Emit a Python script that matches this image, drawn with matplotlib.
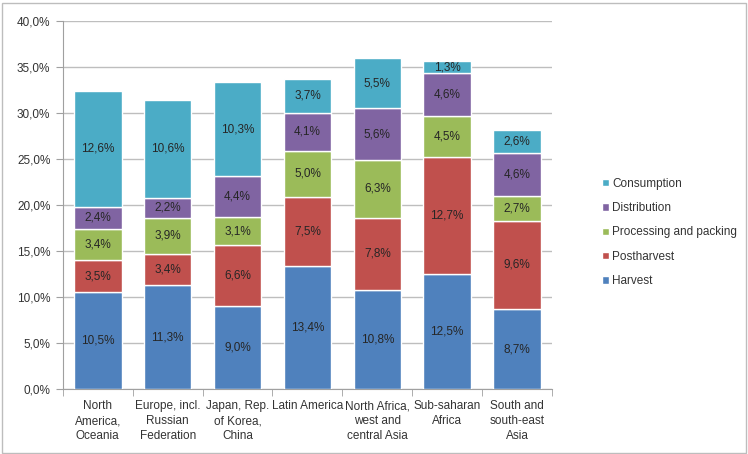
import numpy as np
import matplotlib.pyplot as plt
from matplotlib.patches import Rectangle

plt.rcParams['font.family'] = ['Liberation Sans', 'DejaVu Sans']

# data (percent)
regions = ['North\nAmerica,\nOceania', 'Europe, incl.\nRussian\nFederation',
           'Japan, Rep.\nof Korea,\nChina', 'Latin America',
           'North Africa,\nwest and\ncentral Asia', 'Sub-saharan\nAfrica',
           'South and\nsouth-east\nAsia']
harvest = [10.5, 11.3, 9.0, 13.4, 10.8, 12.5, 8.7]
postharvest = [3.5, 3.4, 6.6, 7.5, 7.8, 12.7, 9.6]
processing = [3.4, 3.9, 3.1, 5.0, 6.3, 4.5, 2.7]
distribution = [2.4, 2.2, 4.4, 4.1, 5.6, 4.6, 4.6]
consumption = [12.6, 10.6, 10.3, 3.7, 5.5, 1.3, 2.6]

series = [('Harvest', harvest, '#4F81BD'),
          ('Postharvest', postharvest, '#C0504D'),
          ('Processing and packing', processing, '#9BBB59'),
          ('Distribution', distribution, '#8064A2'),
          ('Consumption', consumption, '#4BACC6')]

fig = plt.figure(figsize=(7.48, 4.54), dpi=100)
ax = fig.add_axes([0.084, 0.143, 0.654, 0.811])

x = np.arange(len(regions))
bottom = np.zeros(len(regions))
handles = []
for name, vals, col in series:
    vals = np.array(vals)
    b = ax.bar(x, vals, 0.68, bottom=bottom, color=col, edgecolor='white',
               linewidth=1.0, label=name, zorder=3)
    handles.append(b)
    for xi, v, b0 in zip(x, vals, bottom):
        ax.text(xi, b0 + v / 2, f'{v:.1f}%'.replace('.', ','), ha='center',
                va='center', fontsize=8.5, color='#262626', zorder=4)
    bottom += vals

ax.set_xlim(-0.5, len(regions) - 0.5)
ax.set_ylim(0, 40)
ax.set_yticks(np.arange(0, 41, 5))
ax.set_yticklabels([f'{t:.1f}%'.replace('.', ',') for t in np.arange(0, 41, 5)],
                   fontsize=8.5, color='#333333')
ax.yaxis.grid(True, color='#BEBEBE', linewidth=1.0, zorder=0)
ax.tick_params(axis='y', length=5, color='#A0A0A0', pad=4)

ax.set_xticks(x)
ax.set_xticklabels(regions, fontsize=8.5, color='#333333', linespacing=1.35)
ax.set_xticks(np.arange(-0.5, len(regions)), minor=True)
ax.tick_params(axis='x', which='major', length=0, pad=8)
ax.tick_params(axis='x', which='minor', length=5, color='#A0A0A0')

for s in ['top', 'right']:
    ax.spines[s].set_visible(False)
for s in ['left', 'bottom']:
    ax.spines[s].set_color('#A0A0A0')

leg = fig.legend(handles[::-1], [s[0] for s in series][::-1],
                 loc='upper left', bbox_to_anchor=(0.79, 0.632),
                 frameon=False, fontsize=8.5, handlelength=0.6,
                 handleheight=0.6, handletextpad=0.3, labelspacing=1.05)
for t in leg.get_texts():
    t.set_color('#333333')

fig.patches.append(Rectangle((0.003, 0.003), 0.994, 0.99, transform=fig.transFigure,
                             fill=False, edgecolor='#BDBDBD', linewidth=1.0))

fig.savefig('out.png', dpi=100)
